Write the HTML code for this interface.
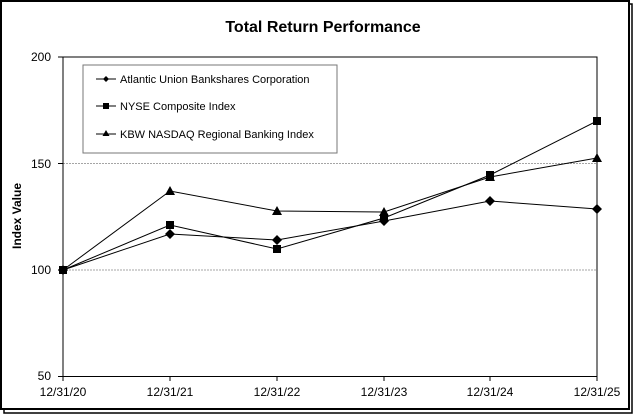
<!DOCTYPE html>
<html><head><style>
body{margin:0;background:#fff;width:634px;height:415px;overflow:hidden;font-family:"Liberation Sans",Arial,sans-serif}
</style></head><body>
<svg width="634" height="415" xmlns="http://www.w3.org/2000/svg" font-family="Liberation Sans, Arial, sans-serif">
<rect x="4" y="4" width="628" height="409" fill="none" stroke="#000" stroke-width="1.5"/>
<rect x="1" y="1" width="628" height="408" fill="#fff" stroke="#000" stroke-width="2"/>
<text x="323" y="32" font-size="16" font-weight="bold" text-anchor="middle">Total Return Performance</text>
<line x1="63" y1="163.5" x2="597" y2="163.5" stroke="#888" stroke-width="0.8" stroke-dasharray="2,1"/>
<line x1="63" y1="270" x2="597" y2="270" stroke="#888" stroke-width="0.8" stroke-dasharray="2,1"/>
<rect x="63" y="57" width="534" height="319.5" fill="none" stroke="#000" stroke-width="1"/>
<g font-size="12" text-anchor="end">
<text x="51" y="61">200</text><text x="51" y="168">150</text><text x="51" y="274">100</text><text x="51" y="380">50</text>
</g>
<g stroke="#000"><line x1="58" y1="57" x2="63" y2="57"/><line x1="58" y1="163.5" x2="63" y2="163.5"/><line x1="58" y1="270" x2="63" y2="270"/><line x1="58" y1="376.5" x2="63" y2="376.5"/>
<line x1="63" y1="376" x2="63" y2="381"/><line x1="170" y1="376" x2="170" y2="381"/><line x1="277" y1="376" x2="277" y2="381"/><line x1="384" y1="376" x2="384" y2="381"/><line x1="490" y1="376" x2="490" y2="381"/><line x1="597" y1="376" x2="597" y2="381"/></g>
<g font-size="12" text-anchor="middle">
<text x="63" y="396">12/31/20</text><text x="170" y="396">12/31/21</text><text x="277" y="396">12/31/22</text><text x="384" y="396">12/31/23</text><text x="490" y="396">12/31/24</text><text x="597" y="396">12/31/25</text>
</g>
<text transform="translate(21,216) rotate(-90)" font-size="12" font-weight="bold" text-anchor="middle">Index Value</text>
<g fill="none" stroke="#000" stroke-width="1">
<polyline points="63,270 170,234 277,240 384,221 490,201 597,209"/>
<polyline points="63,270 170,225 277,249 384,218 490,175 597,121"/>
<polyline points="63,270 170,191 277,211 384,212 490,177 597,158"/>
</g>
<g fill="#000">
<path d="M63,265 l5,5 l-5,5 l-5,-5z M170,229 l5,5 l-5,5 l-5,-5z M277,235 l5,5 l-5,5 l-5,-5z M384,216 l5,5 l-5,5 l-5,-5z M490,196 l5,5 l-5,5 l-5,-5z M597,204 l5,5 l-5,5 l-5,-5z"/>
<rect x="59" y="266" width="8" height="8"/><rect x="166" y="221" width="8" height="8"/><rect x="273" y="245" width="8" height="8"/><rect x="380" y="214" width="8" height="8"/><rect x="486" y="171" width="8" height="8"/><rect x="593" y="117" width="8" height="8"/>
<path d="M170,186 l5,9 h-10z M277,206 l5,9 h-10z M384,207 l5,9 h-10z M490,172 l5,9 h-10z M597,153 l5,9 h-10z"/>
</g>
<rect x="83" y="65" width="254" height="88" fill="#fff" stroke="#777" stroke-width="1"/>
<g stroke="#000"><line x1="96" y1="79" x2="116" y2="79"/><line x1="96" y1="106" x2="116" y2="106"/><line x1="96" y1="134" x2="116" y2="134"/></g>
<g fill="#000"><path d="M106,76 l3,3 l-3,3 l-3,-3z"/><rect x="103" y="103" width="6" height="6"/><path d="M106,130 l3.5,6 h-7z"/></g>
<g font-size="11"><text x="120" y="83">Atlantic Union Bankshares Corporation</text><text x="120" y="110">NYSE Composite Index</text><text x="120" y="138">KBW NASDAQ Regional Banking Index</text></g>
</svg>
</body></html>
